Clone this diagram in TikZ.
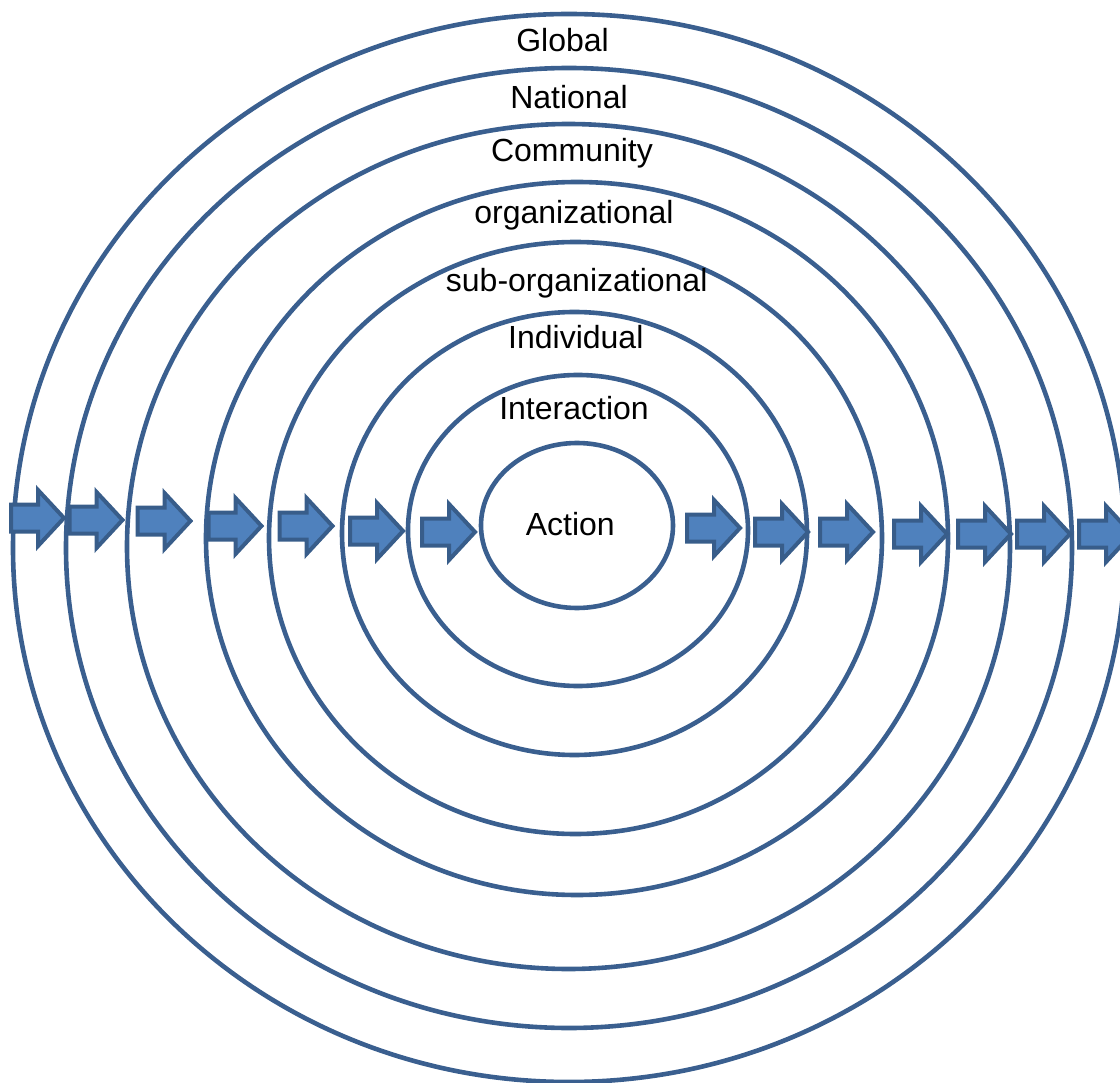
\documentclass[tikz,border=0pt]{standalone}
\usepackage{fontspec}
\setmainfont{Liberation Sans}
\usetikzlibrary{shapes.geometric}
\definecolor{ringblue}{HTML}{3A5F8F}
\definecolor{arrowfill}{HTML}{4F81BD}
\definecolor{arrowedge}{HTML}{385D8A}
\tikzset{
  ring/.style={ellipse, draw=ringblue, line width=4.6pt, inner sep=0pt, outer sep=0pt},
  level/.style={anchor=base, font=\fontsize{32}{36}\selectfont, text=black, inner sep=0pt},
  flow/.pic={
    \filldraw[fill=arrowfill, draw=arrowedge, line width=4pt, line join=miter]
      (-26.5,-13.5) -- (0.5,-13.5) -- (0.5,-28) -- (26.5,0) -- (0.5,28) -- (0.5,13.5)
      -- (-26.5,13.5) -- cycle;
  }
}
\begin{document}
\begin{tikzpicture}[x=1pt, y=-1pt]
  \useasboundingbox (0,0) rectangle (1120,1083);

  % nested levels, outermost first
  \node[ring, minimum width=1112pt, minimum height=1068pt] (global)   at (569,548) {};
  \node[ring, minimum width=1006pt, minimum height=960pt]  (national) at (569,548) {};
  \node[ring, minimum width=883pt,  minimum height=845pt]  (community) at (568.5,546.5) {};
  \node[ring, minimum width=742pt,  minimum height=713pt]  (org)      at (577,538.5) {};
  \node[ring, minimum width=613pt,  minimum height=592pt]  (suborg)   at (575.5,538) {};
  \node[ring, minimum width=465pt,  minimum height=443pt]  (indiv)    at (574.5,533.5) {};
  \node[ring, minimum width=340pt,  minimum height=311pt]  (inter)    at (578,530.5) {};
  \node[ring, minimum width=192pt,  minimum height=165pt]  (action)   at (577,525.5) {};

  % level labels
  \node[level] (tglobal)    at (562.5,52)   {Global};
  \node[level] (tnational)  at (569,108.3)  {National};
  \node[level] (tcommunity) at (572,161.7)  {Community};
  \node[level] (torg)       at (574,223.3)  {organizational};
  \node[level] (tsuborg)    at (576.7,291.7) {sub-organizational};
  \node[level] (tindiv)     at (575.8,348.3) {Individual};
  \node[level] (tinter)     at (574,420)    {Interaction};
  \node[level] (taction)    at (570.3,535)  {Action};

  % flow arrows across the levels
  \pic (a1)  at (37.5,518)  {flow};
  \pic (a2)  at (96,520)    {flow};
  \pic (a3)  at (164,521)   {flow};
  \pic (a4)  at (235,526)   {flow};
  \pic (a5)  at (306,526)   {flow};
  \pic (a6)  at (376.5,531) {flow};
  \pic (a7)  at (448.5,532) {flow};
  \pic (a8)  at (713.5,528) {flow};
  \pic (a9)  at (781.5,532) {flow};
  \pic (a10) at (846.5,532) {flow};
  \pic (a11) at (920.5,534) {flow};
  \pic (a12) at (984.5,534) {flow};
  \pic (a13) at (1043.5,534) {flow};
  \pic (a14) at (1105.5,534) {flow};
\end{tikzpicture}
\end{document}
